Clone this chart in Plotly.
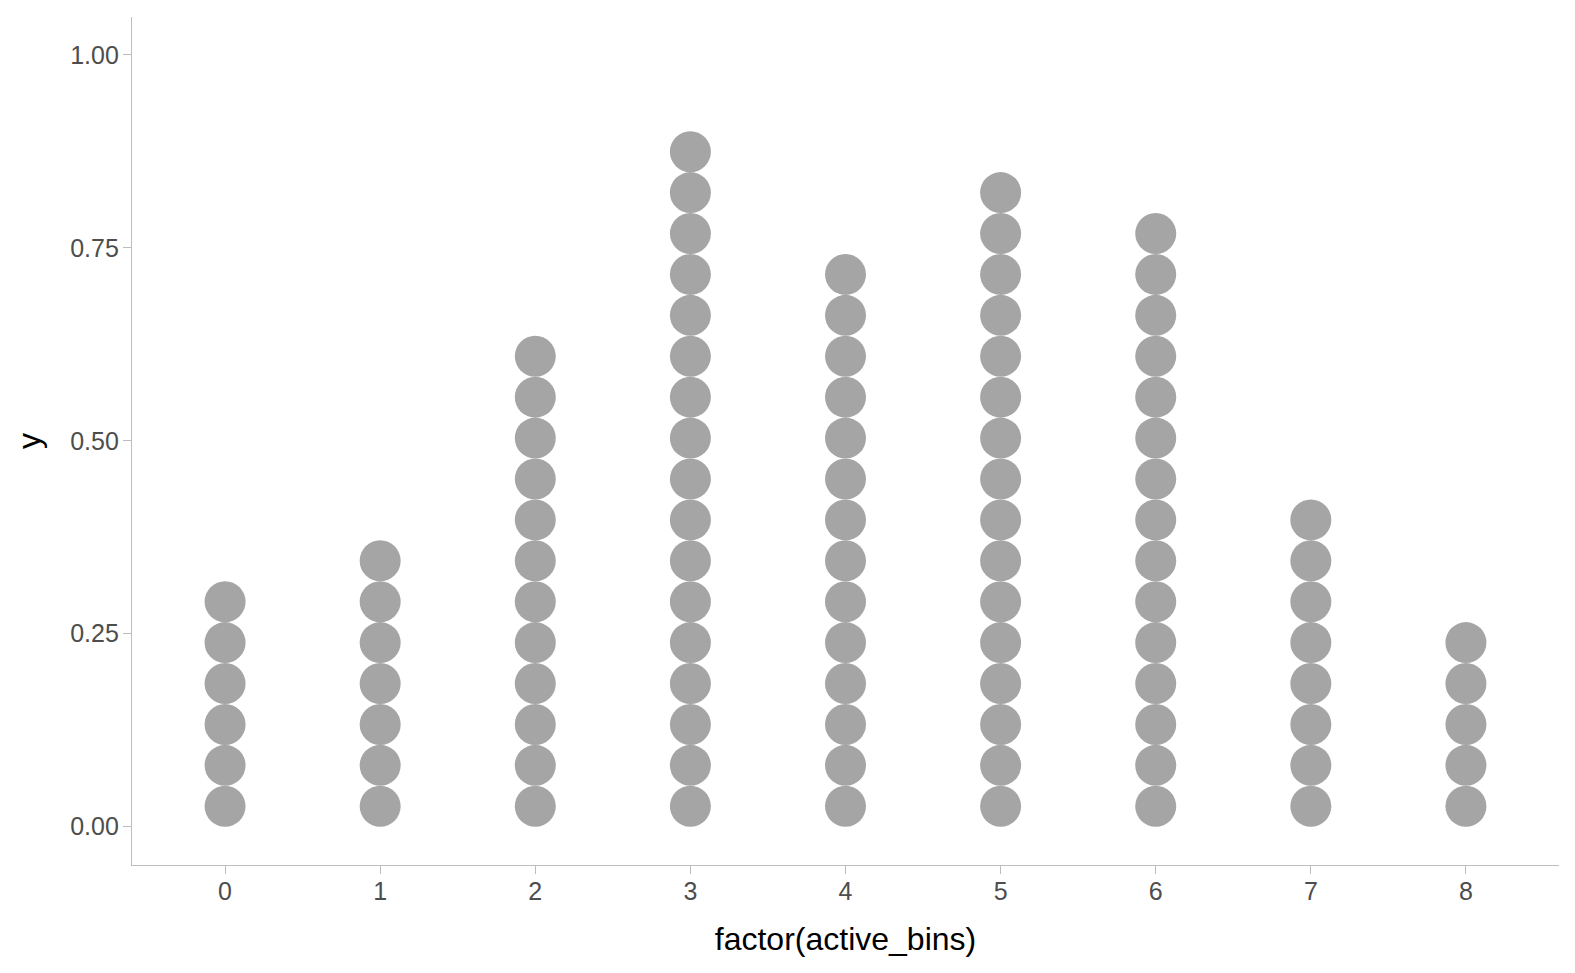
import plotly.graph_objects as go

categories = ["0", "1", "2", "3", "4", "5", "6", "7", "8"]
counts = [6, 7, 12, 17, 14, 16, 15, 8, 5]
dot_step = 0.053  # dot diameter in y units (stack step)
y_ticks = [0.0, 0.25, 0.5, 0.75, 1.0]
y_tick_labels = ["0.00", "0.25", "0.50", "0.75", "1.00"]

xs, ys = [], []
for i, (c, n) in enumerate(zip(categories, counts)):
    for k in range(n):
        xs.append(i)
        ys.append((k + 0.5) * dot_step)

fig = go.Figure(go.Scatter(
    x=xs, y=ys, mode="markers",
    marker=dict(size=41, color="#a5a5a5", line=dict(width=0)),
    hoverinfo="skip", showlegend=False,
))

FONT = "Liberation Sans, Arial, sans-serif"
axis_common = dict(
    showgrid=False, zeroline=False, showline=True, linecolor="#bdbdbd", linewidth=1.3,
    ticks="outside", ticklen=8, tickcolor="#bdbdbd", tickwidth=1.3,
    tickfont=dict(family=FONT, size=25, color="#4d4d4d"),
    automargin=False,
)

# page body has an 8px default margin, so the figure is offset by 8px
fig.update_layout(
    width=1567, height=965,
    margin=dict(l=124, r=16, t=9, b=108),
    paper_bgcolor="white", plot_bgcolor="white",
    xaxis=dict(
        **axis_common,
        range=[-0.6, 8.6],
        tickmode="array", tickvals=list(range(len(categories))), ticktext=categories,
        ticklabelstandoff=-4,
        title=dict(text="factor(active_bins)", standoff=23,
                   font=dict(family=FONT, size=32, color="black")),
    ),
    yaxis=dict(
        **axis_common,
        range=[-0.0496, 1.049],
        tickmode="array", tickvals=y_ticks, ticktext=y_tick_labels,
        ticklabelstandoff=-1,
        title=dict(text="y", standoff=19,
                   font=dict(family=FONT, size=32, color="black")),
    ),
)

fig.write_html("out.html")
